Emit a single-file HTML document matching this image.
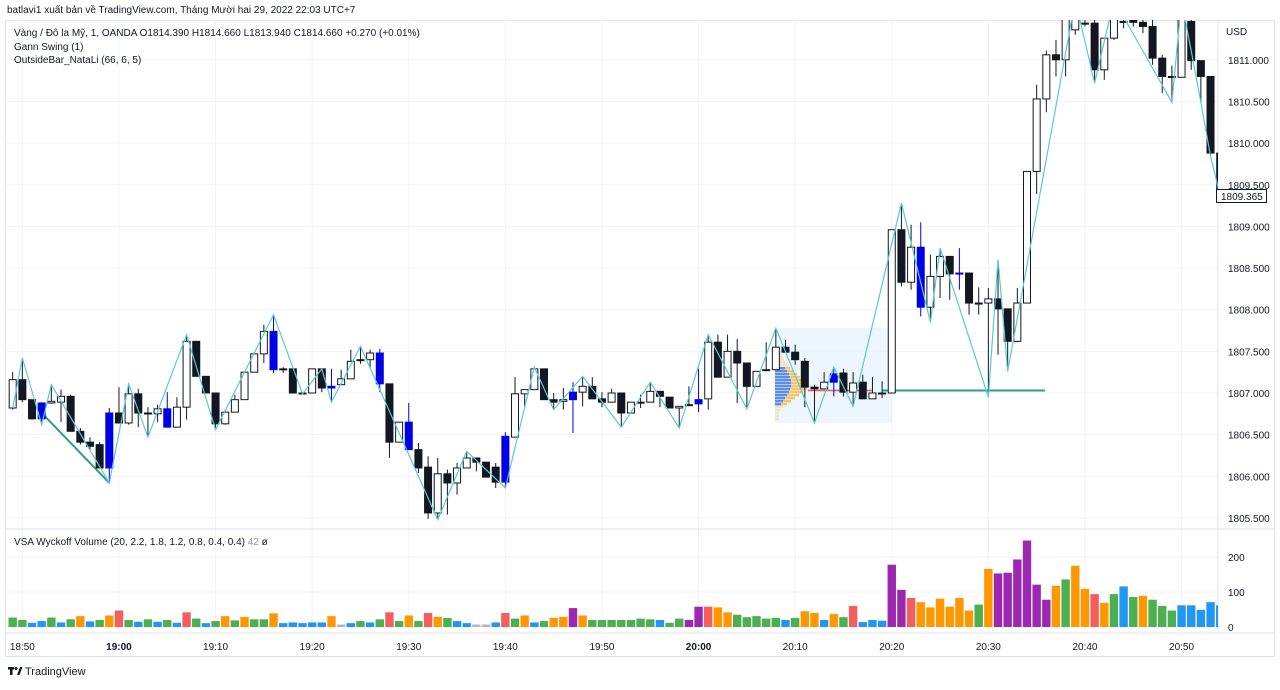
<!DOCTYPE html>
<html><head><meta charset="utf-8">
<style>
html,body{margin:0;padding:0;background:#fff;}
body{width:1280px;height:685px;overflow:hidden;font-family:"Liberation Sans","DejaVu Sans",sans-serif;}
svg text{font-family:"Liberation Sans","DejaVu Sans",sans-serif;}
</style></head>
<body>
<svg id="chart" width="1280" height="685" viewBox="0 0 1280 685" xmlns="http://www.w3.org/2000/svg">
<defs><clipPath id="pclip"><rect x="5" y="20" width="1213" height="508"/></clipPath>
<clipPath id="vclip"><rect x="5" y="530" width="1213" height="103"/></clipPath></defs>
<rect x="5.5" y="20.5" width="1269" height="636" fill="#fff" stroke="#e0e3eb"/>
<g id="grid"></g>
<g id="overlay" clip-path="url(#pclip)"></g>
<g id="candles" clip-path="url(#pclip)"></g>
<g id="gann" clip-path="url(#pclip)"></g>
<g id="vol" clip-path="url(#vclip)"></g>
<g id="axes"></g>
<text x="7" y="13" font-size="10" fill="#131722">batlavi1 xuất bản về TradingView.com, Tháng Mười hai 29, 2022 22:03 UTC+7</text>
<text x="14" y="36" font-size="10" fill="#131722">Vàng / Đô la Mỹ, 1, OANDA  O1814.390  H1814.660  L1813.940  C1814.660  +0.270 (+0.01%)</text>
<text x="14" y="50" font-size="10" fill="#131722">Gann Swing (1)</text>
<text x="14" y="63" font-size="10" fill="#131722">OutsideBar_NataLi (66, 6, 5)</text>
<text x="14" y="545" font-size="10" fill="#131722">VSA Wyckoff Volume (20, 2.2, 1.8, 1.2, 0.8, 0.4, 0.4) <tspan fill="#9598a1">42</tspan>  ø</text>
<text x="1226" y="35" font-size="10" fill="#131722">USD</text>
<line x1="5" y1="529" x2="1275" y2="529" stroke="#e0e3eb"/>
<g><rect x="8" y="667" width="6" height="2.5" fill="#131722"/><rect x="10" y="667" width="2.5" height="8" fill="#131722"/><circle cx="16" cy="668.5" r="1.5" fill="#131722"/><path d="M17 675 L20 667 L22.5 667 L19.5 675 Z" fill="#131722"/><text x="25" y="675" font-size="11" fill="#131722">TradingView</text></g>
</svg>
<script>
var opens=[1806.82,1807.16,1806.92,1806.88,1806.88,1806.89,1806.96,1806.54,1806.41,1806.38,1806.10,1806.76,1806.64,1806.99,1806.76,1806.75,1806.81,1806.59,1806.83,1807.62,1807.20,1807.00,1806.63,1806.77,1806.92,1807.25,1807.47,1807.74,1807.29,1807.29,1807.00,1807.00,1807.29,1807.08,1807.10,1807.17,1807.40,1807.40,1807.48,1807.11,1806.41,1806.65,1806.32,1806.11,1805.56,1806.03,1805.92,1806.10,1806.22,1806.17,1806.11,1805.93,1806.47,1806.99,1807.04,1807.29,1806.92,1806.90,1807.01,1807.01,1807.08,1806.93,1806.89,1807.00,1806.76,1806.89,1806.89,1807.02,1806.95,1806.82,1806.86,1806.92,1806.93,1807.61,1807.19,1807.50,1807.36,1807.08,1807.28,1807.28,1807.55,1807.49,1807.38,1807.07,1807.05,1807.13,1807.24,1807.01,1807.13,1806.93,1807.00,1807.00,1808.96,1808.33,1808.75,1808.03,1808.40,1808.64,1808.44,1808.44,1808.08,1808.08,1808.13,1808.01,1807.62,1808.08,1809.66,1810.53,1811.06,1811.00,1811.36,1811.44,1811.44,1810.88,1811.26,1811.46,1811.48,1811.45,1811.40,1811.02,1810.80,1810.79,1811.46,1810.99,1810.80,1809.88];
var highs=[1807.25,1807.42,1806.92,1806.89,1807.10,1807.04,1806.98,1806.58,1806.47,1806.41,1806.82,1807.07,1807.11,1807.05,1806.83,1806.86,1807.01,1806.95,1807.70,1807.62,1807.20,1807.00,1806.80,1806.98,1807.25,1807.49,1807.82,1807.94,1807.31,1807.29,1807.01,1807.29,1807.29,1807.29,1807.28,1807.52,1807.56,1807.52,1807.53,1807.11,1806.65,1806.88,1806.40,1806.24,1806.22,1806.08,1806.16,1806.30,1806.22,1806.17,1806.16,1806.53,1807.19,1807.04,1807.31,1807.29,1807.00,1807.06,1807.13,1807.20,1807.19,1807.01,1807.05,1807.00,1806.89,1806.98,1807.13,1807.02,1806.95,1806.84,1807.08,1807.29,1807.70,1807.70,1807.70,1807.65,1807.36,1807.26,1807.61,1807.78,1807.64,1807.58,1807.42,1807.10,1807.25,1807.31,1807.29,1807.25,1807.22,1807.19,1807.14,1808.96,1809.28,1809.02,1809.05,1808.66,1808.74,1808.64,1808.74,1808.44,1808.27,1808.26,1808.60,1808.01,1808.26,1809.66,1810.70,1811.11,1811.24,1811.72,1811.72,1811.70,1811.60,1811.26,1811.72,1811.54,1811.60,1811.54,1811.48,1811.06,1810.93,1811.72,1811.60,1810.99,1810.80,1809.88];
var lows=[1806.80,1806.89,1806.68,1806.62,1806.87,1806.65,1806.54,1806.38,1806.32,1806.10,1805.92,1806.64,1806.62,1806.59,1806.47,1806.65,1806.59,1806.59,1806.68,1807.20,1807.00,1806.56,1806.62,1806.77,1806.92,1807.25,1807.36,1807.24,1807.24,1807.00,1806.99,1807.00,1807.01,1806.89,1807.10,1807.17,1807.35,1807.30,1807.01,1806.22,1806.41,1806.32,1806.04,1805.49,1805.48,1805.54,1805.78,1806.10,1806.06,1805.99,1805.86,1805.86,1806.47,1806.83,1807.04,1806.92,1806.80,1806.80,1806.52,1806.84,1806.93,1806.83,1806.89,1806.59,1806.76,1806.82,1806.89,1806.83,1806.82,1806.58,1806.86,1806.77,1806.80,1807.19,1807.19,1806.88,1806.81,1807.08,1807.28,1807.28,1807.49,1807.34,1806.83,1806.64,1807.05,1806.96,1806.96,1806.84,1806.93,1806.93,1806.94,1807.00,1808.28,1808.24,1807.92,1807.85,1808.14,1808.12,1808.24,1807.94,1807.94,1806.95,1807.46,1807.26,1807.61,1808.08,1809.39,1810.37,1810.80,1810.80,1811.30,1811.40,1810.72,1810.76,1811.24,1811.38,1811.40,1811.32,1810.94,1810.60,1810.49,1810.79,1810.88,1810.49,1809.84,1809.365];
var closes=[1807.16,1806.92,1806.69,1806.69,1806.90,1806.96,1806.54,1806.41,1806.36,1806.10,1806.76,1806.64,1806.99,1806.76,1806.75,1806.81,1806.59,1806.83,1807.62,1807.20,1807.00,1806.63,1806.77,1806.92,1807.25,1807.47,1807.74,1807.28,1807.28,1807.00,1806.99,1807.29,1807.06,1807.06,1807.17,1807.38,1807.39,1807.48,1807.11,1806.41,1806.65,1806.32,1806.10,1805.56,1806.03,1805.92,1806.10,1806.22,1806.17,1805.99,1805.93,1806.48,1806.99,1807.04,1807.29,1806.92,1806.89,1806.92,1806.92,1807.08,1806.93,1806.89,1807.00,1806.76,1806.89,1806.88,1807.02,1806.96,1806.82,1806.84,1806.85,1806.87,1807.61,1807.19,1807.50,1807.36,1807.08,1807.26,1807.27,1807.55,1807.49,1807.40,1807.07,1807.05,1807.13,1807.23,1807.01,1807.12,1806.93,1807.00,1806.99,1808.96,1808.33,1808.75,1808.03,1808.40,1808.64,1808.43,1808.43,1808.08,1808.07,1808.13,1808.01,1807.62,1808.08,1809.66,1810.53,1811.06,1811.00,1811.60,1811.66,1811.44,1810.88,1811.26,1811.66,1811.46,1811.45,1811.40,1811.02,1810.80,1810.79,1811.66,1810.99,1810.80,1809.88,1809.365];
var blueBars=[3,10,16,27,33,38,41,51,58,71,85,94,98];
var volumes=[27,20,12,17,27,13,22,31,16,20,33,47,20,15,22,15,20,12,42,24,11,17,31,19,29,22,22,39,11,13,11,13,13,31,7,11,17,13,22,42,17,33,17,40,29,26,17,11,7,7,13,40,24,33,13,17,26,29,54,33,20,20,20,20,20,
24,22,20,12,24,20,58,58,56,42,35,28,31,24,26,20,26,45,40,20,37,28,60,14,20,18,178,106,83,71,56,81,58,83,47,64,166,153,155,193,247,121,78,118,136,175,109,94,69,94,116,86,89,78,60,47,62,62,49,71,62];
var volColors="ggbbgbgobgorgbgbgbrgbgogoggobbbbbonbgbgrgogrogbbnnbrgobgoopogggggggbggpproogggggbgoobogrbbbpproooooogoppppppogoorogbgogggbbbbbgb";
var priceTicks=[1805.5,1806,1806.5,1807,1807.5,1808,1808.5,1809,1809.5,1810,1810.5,1811];
var timeLabels=["18:50","19:00","19:10","19:20","19:30","19:40","19:50","20:00","20:10","20:20","20:30","20:40","20:50"];
var timeIdx=[1,11,21,31,41,51,61,71,81,91,101,111,121];
var volTicks=[0,100,200];
var swingIdx=[0,1,3,4,10,12,14,18,21,27,30,32,33,36,44,47,51,54,56,59,63,66,69,72,76,79,83,85,87,92,95,96,101,102,103,110,112,114,120,121,123,124,125];
var swingType="OHLHLHLHLHLHLHLHLHLHLHLHLHLHLHLHLHLHLHLHLLL";
var profileBlue=[0,0,0,0,0,0,10,12,14,15,16,16,16,15,14,12,10,8,6,0,0,0,0,0];
var profileTotal=[4,6,8,9,10,13,15,18,22,25,28,31,33,32,28,24,20,16,12,8,5,4,4,4];
var lastPrice=1809.365;
var poc=1807.03;

(function(){
var NS="http://www.w3.org/2000/svg";
function X(i){return 12.7+9.66*i;}
function Y(p){return 393-(p-1807)*83.3;}
function VY(v){return 627-v*0.35;}
function mk(tag,attrs,parent){var e=document.createElementNS(NS,tag);for(var k in attrs)e.setAttribute(k,attrs[k]);parent.appendChild(e);return e;}
var grid=document.getElementById('grid'),axes=document.getElementById('axes'),cg=document.getElementById('candles'),vg=document.getElementById('vol'),gg=document.getElementById('gann'),og=document.getElementById('overlay');
priceTicks.forEach(function(p){
  var l=mk('line',{x1:5,x2:1218,y1:Y(p),y2:Y(p),stroke:'#f0f3fa'},grid);
  
  
  var t=mk('text',{x:1228,y:Y(p)+4,'font-size':10,fill:'#131722'},axes);t.textContent=p.toFixed(3);
  
  
});
timeIdx.forEach(function(i,k){
  var l=mk('line',{x1:X(i),x2:X(i),y1:20,y2:633,stroke:'#f0f3fa'},grid);
  
  
  var t=mk('text',{x:X(i),y:650,'font-size':10,fill:'#131722','text-anchor':'middle','font-weight':timeLabels[k]==='19:00'||timeLabels[k]==='20:00'?'bold':'normal'},axes);t.textContent=timeLabels[k];
  
  
});
volTicks.forEach(function(v){
  var l=mk('line',{x1:5,x2:1218,y1:VY(v),y2:VY(v),stroke:'#f0f3fa'},grid);
  
  
  var t=mk('text',{x:1228,y:VY(v)+4,'font-size':10,fill:'#131722'},axes);t.textContent=v;
  
  
});
mk('line',{x1:1218,x2:1218,y1:20,y2:633,stroke:'#e0e3eb'},grid);
mk('line',{x1:5,x2:1275,y1:633,y2:633,stroke:'#e0e3eb'},grid);
var pb=mk('rect',{x:X(79)-1,y:Y(1807.78),width:X(91)-X(79)+1,height:Y(1806.64)-Y(1807.78),fill:'#e8f3fc',opacity:0.8},og);


profileTotal.forEach(function(v,k){
  var yy=349+k*3;
  var r=mk('rect',{x:775,y:yy,width:v,height:2.4,fill:k<6||k>18?'#f3e2bd':'#f4c46a'},og);
  
  
  if(profileBlue[k]>0){var b=mk('rect',{x:775,y:yy,width:profileBlue[k],height:2.4,fill:'#5b8def'},og);
  
  }
});
var rl=mk('line',{x1:808,x2:X(89),y1:Y(poc),y2:Y(poc),stroke:'#f05454','stroke-width':1.5},og);


var hl=mk('line',{x1:X(90),x2:1045,y1:Y(poc),y2:Y(poc),stroke:'#2a9d8f','stroke-width':2},og);


var tl=mk('line',{x1:X(3),x2:X(10),y1:Y(1806.76),y2:Y(lows[10]),stroke:'#2a9d8f','stroke-width':2},og);


for(var i=0;i<opens.length;i++){
  var o=opens[i],c=closes[i],h=highs[i],lw=lows[i],x=X(i);
  var blue=blueBars.indexOf(i)>=0,up=c>o;
  var fill=blue?'#0000e6':(up?'#ffffff':'#131722');
  var w=mk('line',{x1:x,x2:x,y1:Y(h),y2:Y(lw),stroke:blue?'#0000e6':'#131722','stroke-width':1},cg);
  
  
  var bodyTop=Y(Math.max(o,c)),bh=Math.max(1,Math.abs(Y(o)-Y(c)));
  var b=mk('rect',{x:x-3.5,y:bodyTop,width:7,height:bh,fill:fill,stroke:blue?'#0000e6':'#131722','stroke-width':1},cg);
  
  
}
var pts=swingIdx.map(function(i,k){var t=swingType[k];var p=t==='H'?highs[i]:t==='L'?lows[i]:opens[i];return X(i)+','+Y(p);});
var gl=mk('polyline',{points:pts.join(' '),fill:'none',stroke:'#5cc8d3','stroke-width':1.2},gg);


var cmap={g:'#4caf50',b:'#2196f3',o:'#ff9800',r:'#f65d5d',p:'#9c27b0',n:'#b2b5be'};
volumes.forEach(function(v,i){
  var r=mk('rect',{x:X(i)-4.2,y:VY(v),width:8.4,height:627-VY(v),fill:cmap[volColors[i]]||'#4caf50'},vg);
  
  
});
var lb=mk('rect',{x:1216.5,y:Y(lastPrice)-6.5,width:50,height:13,fill:'#fff',stroke:'#131722'},axes);


var lt=mk('text',{x:1221,y:Y(lastPrice)+4,'font-size':10,fill:'#131722'},axes);lt.textContent=lastPrice.toFixed(3);


})();
</script>
</body></html>
